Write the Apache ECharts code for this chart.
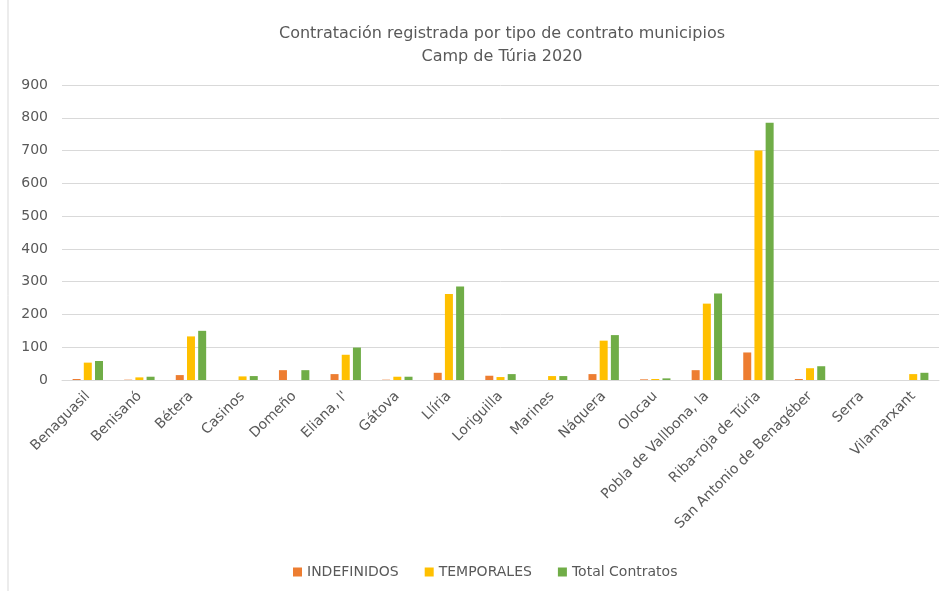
<!DOCTYPE html>
<html><head><meta charset="utf-8">
<script src="https://cdn.jsdelivr.net/npm/echarts@6/dist/echarts.min.js"></script>
<style>html,body{margin:0;padding:0;background:#fff}#c{width:948px;height:591px}</style>
</head><body><div id="c"></div>
<script>
const categories = ['Benaguasil','Benisanó','Bétera','Casinos','Domeño','Eliana, l\'','Gátova','Llíria','Loriguilla','Marines','Náquera','Olocau','Pobla de Vallbona, la','Riba-roja de Túria','San Antonio de Benagéber','Serra','Vilamarxant'];
const indefinidos = [3, 1, 15, 0, 30, 18, 1, 22, 13, 0, 18, 2, 30, 84, 3, 0, 0];
const temporales  = [53, 8, 133, 11, 0, 77, 10, 262, 9, 12, 120, 3, 233, 700, 36, 0, 18];
const total       = [58, 10, 150, 12, 30, 99, 10, 285, 18, 12, 137, 5, 264, 785, 42, 0, 22];
const seriesNames = ['INDEFINIDOS','TEMPORALES','Total Contratos'];
const yTicks = {min: 0, max: 900, interval: 100};

const font = '"DejaVu Sans", sans-serif';
const chart = echarts.init(document.getElementById('c'));
chart.setOption({
  animation: false,
  title: {
    text: 'Contratación registrada por tipo de contrato municipios',
    subtext: 'Camp de Túria 2020',
    left: 497, top: 21, textAlign: 'center', itemGap: 7,
    textStyle: {fontFamily: font, fontSize: 16, fontWeight: 'normal', color: '#595959'},
    subtextStyle: {fontFamily: font, fontSize: 16, color: '#595959'}
  },
  legend: {
    data: seriesNames, bottom: 7, left: 288, itemWidth: 9, itemHeight: 9, itemGap: 26,
    icon: 'rect',
    textStyle: {fontFamily: font, fontSize: 14, color: '#595959'}
  },
  graphic: [{type: 'line', shape: {x1: 8, y1: 0, x2: 8, y2: 591}, style: {stroke: '#d9d9d9', lineWidth: 1}}],
  grid: {left: 62, right: 9, top: 85, bottom: 211, containLabel: false},
  xAxis: {
    type: 'category', data: categories,
    axisLine: {lineStyle: {color: '#d9d9d9'}},
    axisTick: {show: false},
    axisLabel: {rotate: 45, interval: 0, fontFamily: font, fontSize: 14, color: '#595959', margin: 14}
  },
  yAxis: {
    type: 'value', min: yTicks.min, max: yTicks.max, interval: yTicks.interval,
    axisLine: {show: false}, axisTick: {show: false},
    splitLine: {lineStyle: {color: '#d9d9d9'}},
    axisLabel: {fontFamily: font, fontSize: 14, color: '#595959', margin: 14}
  },
  series: [
    {name: seriesNames[0], type: 'bar', data: indefinidos, barWidth: 8, barGap: '40%', itemStyle: {color: '#ED7D31'}},
    {name: seriesNames[1], type: 'bar', data: temporales, barWidth: 8, barGap: '40%', itemStyle: {color: '#FFC000'}},
    {name: seriesNames[2], type: 'bar', data: total, barWidth: 8, barGap: '40%', itemStyle: {color: '#70AD47'}}
  ]
});
</script></body></html>
